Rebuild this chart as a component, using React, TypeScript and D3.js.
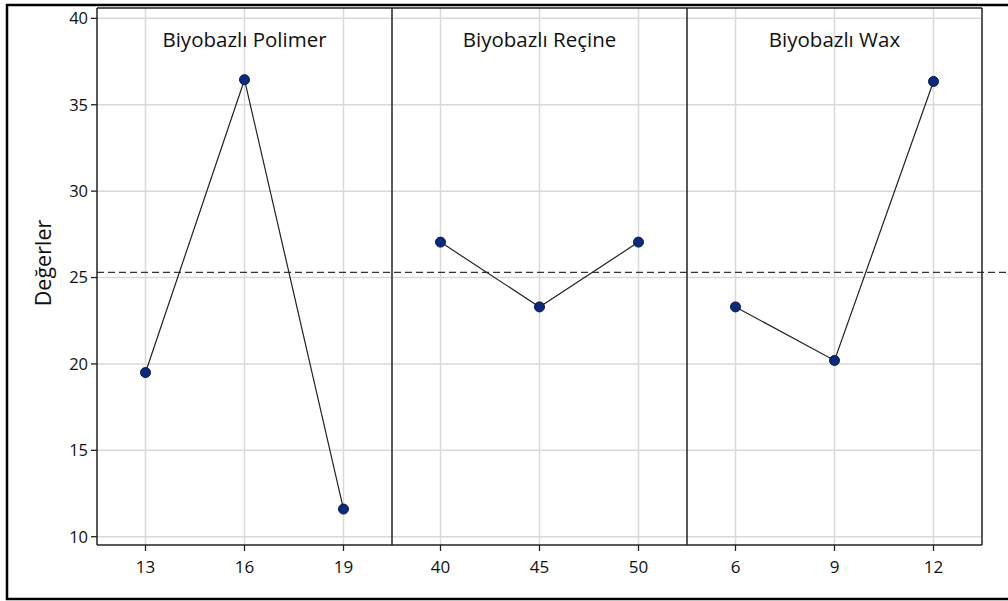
import React from "react";
import * as d3 from "d3";

const panelTitles = ["Biyobazlı Polimer", "Biyobazlı Reçine", "Biyobazlı Wax"];
const panelLevels = [
  [13, 16, 19],
  [40, 45, 50],
  [6, 9, 12],
];
const panelValues = [
  [19.5, 36.45, 11.6],
  [27.05, 23.3, 27.05],
  [23.3, 20.2, 36.35],
];
const grandMean = 25.3;
const yTicks = [10, 15, 20, 25, 30, 35, 40];
const yLabel = "Değerler";

const W = 1008;
const H = 601;
const plotLeft = 97;
const plotRight = 982;
const plotTop = 8;
const plotBottom = 545;
const FONT = "'Open Sans', 'Noto Sans', sans-serif";

export default function App() {
  const y = d3.scaleLinear().domain([9.52, 40.6]).range([plotBottom, plotTop]);
  const panelW = (plotRight - plotLeft) / 3;
  const panels = panelLevels.map((lv, i) => {
    const x0 = plotLeft + i * panelW;
    const x1 = x0 + panelW;
    const span = lv[lv.length - 1] - lv[0];
    const pad = span * 0.245;
    const x = d3.scaleLinear().domain([lv[0] - pad, lv[lv.length - 1] + pad]).range([x0, x1]);
    return { x, x0, x1, lv, vals: panelValues[i], title: panelTitles[i] };
  });
  const line = d3.line<[number, number]>().x((d) => d[0]).y((d) => d[1]);

  return (
    <svg width={W} height={H} style={{ position: "absolute", left: 0, top: 0, background: "#fff" }}>
      <rect x={0} y={0} width={W} height={H} fill="#fff" />
      {/* gridlines */}
      {panels.map((p, i) => (
        <g key={"g" + i}>
          {p.lv.map((v) => (
            <line key={v} x1={p.x(v)} x2={p.x(v)} y1={plotTop} y2={plotBottom} stroke="#d9d9d9" strokeWidth={1.5} />
          ))}
        </g>
      ))}
      {yTicks.map((t) => (
        <line key={"yg" + t} x1={plotLeft} x2={plotRight} y1={y(t)} y2={y(t)} stroke="#d9d9d9" strokeWidth={1.5} />
      ))}
      {/* mean line */}
      <line x1={plotLeft} x2={W} y1={y(grandMean)} y2={y(grandMean)} stroke="#333" strokeWidth={1.3} strokeDasharray="7,4" />
      {/* panel frames */}
      <line x1={plotLeft} x2={plotRight} y1={plotTop} y2={plotTop} stroke="#222" strokeWidth={1.5} />
      <line x1={plotLeft} x2={plotRight} y1={plotBottom} y2={plotBottom} stroke="#222" strokeWidth={1.5} />
      {[0, 1, 2, 3].map((i) => (
        <line key={"v" + i} x1={plotLeft + i * panelW} x2={plotLeft + i * panelW} y1={plotTop} y2={plotBottom} stroke="#222" strokeWidth={1.5} />
      ))}
      {/* y axis ticks */}
      {yTicks.map((t) => (
        <g key={"yt" + t}>
          <line x1={plotLeft - 6} x2={plotLeft} y1={y(t)} y2={y(t)} stroke="#222" strokeWidth={1.3} />
          <text x={plotLeft - 9} y={y(t)} dy="0.36em" textAnchor="end" fontFamily={FONT} fontSize={16.5} fontWeight={500} fill="#111">
            {t}
          </text>
        </g>
      ))}
      <text
        transform={`translate(51,263) rotate(-90)`}
        textAnchor="middle"
        fontFamily={FONT}
        fontSize={21.5}
        fontWeight={500}
        fill="#111"
      >
        {yLabel}
      </text>
      {/* panels */}
      {panels.map((p, i) => {
        const pts: [number, number][] = p.lv.map((v, j) => [p.x(v), y(p.vals[j])]);
        return (
          <g key={"p" + i}>
            <text x={(p.x0 + p.x1) / 2} y={47} textAnchor="middle" fontFamily={FONT} fontSize={20.5} fill="#111">
              {p.title}
            </text>
            {p.lv.map((v) => (
              <g key={"xt" + v}>
                <line x1={p.x(v)} x2={p.x(v)} y1={plotBottom} y2={plotBottom + 6} stroke="#222" strokeWidth={1.3} />
                <text x={p.x(v)} y={573} textAnchor="middle" fontFamily={FONT} fontSize={17} fontWeight={500} fill="#111">
                  {v}
                </text>
              </g>
            ))}
            <path d={line(pts) || ""} fill="none" stroke="#222" strokeWidth={1.2} />
            {pts.map((pt, j) => (
              <circle key={j} cx={pt[0]} cy={pt[1]} r={5} fill="#0b2a7e" stroke="#06184a" strokeWidth={1} />
            ))}
          </g>
        );
      })}
      {/* outer border */}
      <rect x={7} y={5} width={W + 10} height={594} fill="none" stroke="#000" strokeWidth={2.5} />
    </svg>
  );
}
